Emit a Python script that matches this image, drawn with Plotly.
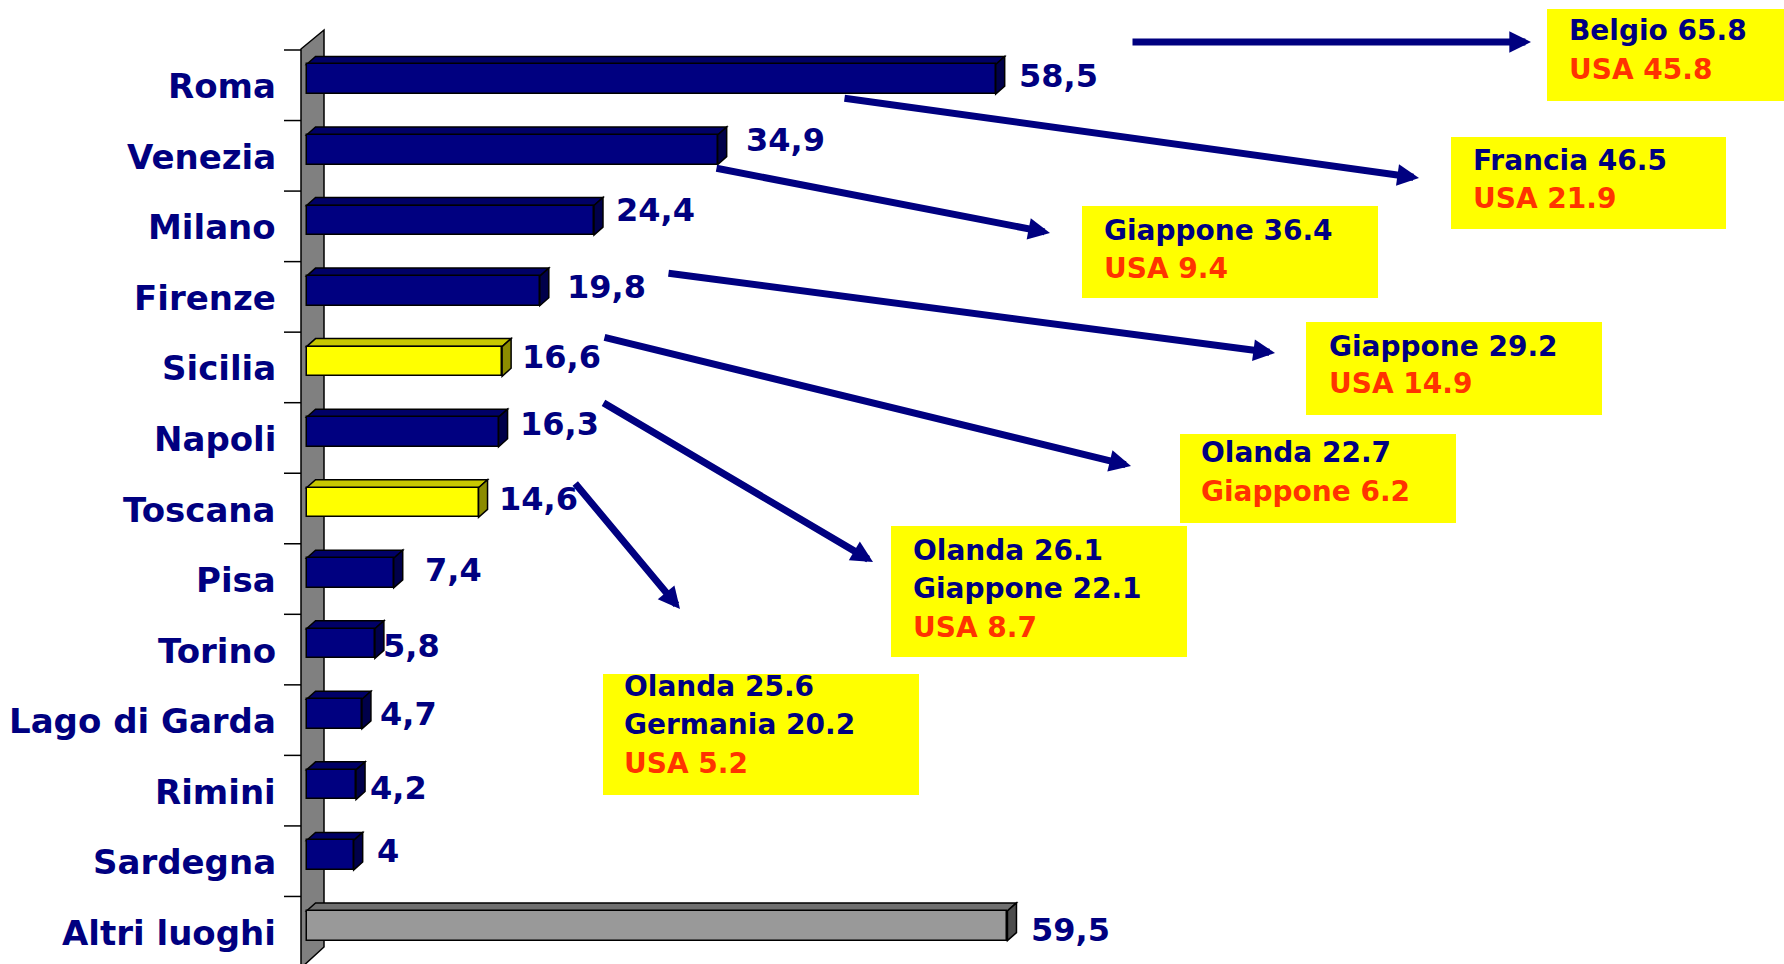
import plotly.graph_objects as go

# ---------------- data ----------------
categories = ["Roma", "Venezia", "Milano", "Firenze", "Sicilia", "Napoli", "Toscana",
              "Pisa", "Torino", "Lago di Garda", "Rimini", "Sardegna", "Altri luoghi"]
values = [58.5, 34.9, 24.4, 19.8, 16.6, 16.3, 14.6, 7.4, 5.8, 4.7, 4.2, 4.0, 59.5]
value_labels = ["58,5", "34,9", "24,4", "19,8", "16,6", "16,3", "14,6",
                "7,4", "5,8", "4,7", "4,2", "4", "59,5"]
bar_group = ["city", "city", "city", "city", "region", "city", "region",
             "city", "city", "city", "city", "city", "other"]

callout_texts = [
    ["Belgio 65.8", "USA 45.8"],
    ["Francia 46.5", "USA 21.9"],
    ["Giappone 36.4", "USA 9.4"],
    ["Giappone 29.2", "USA 14.9"],
    ["Olanda 22.7", "Giappone 6.2"],
    ["Olanda 26.1", "Giappone 22.1", "USA 8.7"],
    ["Olanda 25.6", "Germania 20.2", "USA 5.2"],
]

# ---------------- styling / layout geometry (pixels) ----------------
W, H = 1784, 964
L, R, T, B = 283, 0, 44, 3
PW, PH = W - L - R, H - T - B
UX = 11.78                      # px per unit on value axis
X0 = -2.0
XMAX = X0 + PW / UX
N = len(categories)
UY = PH / N

NAVY = "#000080"
RED = "#ff3300"
face_colors = {
    "city":   ("#000080", "#000066", "#00004a"),
    "region": ("#ffff00", "#c8c800", "#8c8c00"),
    "other":  ("#999999", "#707070", "#4d4d4d"),
}
BAR_W = 0.42
DX = 9 / UX          # depth in value units
DY = 8 / UY          # depth in category units
FONT = "DejaVu Sans"

label_gap = [21, 26, 20, 25, 18, 19, 18, 29, 6, 16, 12, 21, 22]
label_dy = [3, 10, 10, 4, 4, 8, 4, 3, -2, 0, -3, 4, -4]

# callout layout: box (x0,y0,x1,y1), text x, line ys, arrow tail, arrow tip
callout_layout = [
    dict(box=(1547, 9, 1790, 101), tx=1567, ly=[31, 70], tail=(1131, 42), tip=(1531, 42)),
    dict(box=(1451, 137, 1726, 229), tx=1471, ly=[160, 198], tail=(843, 98), tip=(1419, 178)),
    dict(box=(1082, 206, 1378, 298), tx=1102, ly=[230, 268], tail=(715, 168), tip=(1050, 233)),
    dict(box=(1306, 322, 1602, 415), tx=1327, ly=[347, 383], tail=(667, 273), tip=(1275, 353)),
    dict(box=(1180, 434, 1456, 523), tx=1199, ly=[452, 492], tail=(603, 337), tip=(1131, 466)),
    dict(box=(891, 526, 1187, 657), tx=911, ly=[550, 588, 627], tail=(602, 402), tip=(873, 562)),
    dict(box=(603, 674, 919, 795), tx=622, ly=[686, 724, 763], tail=(574, 482), tip=(680, 609)),
]


def xp(px):
    return (px - L) / PW


def yp(py):
    return 1 - (py - T) / PH


def xd(px):
    return X0 + (px - L) / UX


fig = go.Figure()

ypos = list(range(N))
fig.add_trace(go.Bar(
    x=values, y=ypos, orientation="h", width=BAR_W,
    marker=dict(color=[face_colors[g][0] for g in bar_group],
                line=dict(color="black", width=1.5)),
    hoverinfo="skip", showlegend=False,
))

shapes = []
# wall (decorative back plane)
wl, wr = xp(301), xp(324)
shapes.append(dict(
    type="path", xref="paper", yref="paper", layer="below",
    path=f"M{wl},{yp(49)} L{wr},{yp(30)} L{wr},{yp(947)} L{wl},{yp(968)} Z",
    fillcolor="#808080", line=dict(color="black", width=1.5)))
# boundary tick marks
for k in range(N):
    yb = k - 0.5 + 6 / UY
    shapes.append(dict(type="line", xref="x", yref="y", layer="below",
                       x0=xd(284), x1=xd(301), y0=yb, y1=yb,
                       line=dict(color="black", width=1.5)))
# 3D faces of bars
for i, (v, g) in enumerate(zip(values, bar_group)):
    _, top_c, side_c = face_colors[g]
    y0, y1 = i - BAR_W / 2, i + BAR_W / 2
    shapes.append(dict(
        type="path", xref="x", yref="y", layer="below",
        path=f"M0,{y0} L{v},{y0} L{v + DX},{y0 - DY} L{DX},{y0 - DY} Z",
        fillcolor=top_c, line=dict(color="black", width=1.5)))
    shapes.append(dict(
        type="path", xref="x", yref="y", layer="below",
        path=f"M{v},{y0} L{v + DX},{y0 - DY} L{v + DX},{y1 - DY} L{v},{y1} Z",
        fillcolor=side_c, line=dict(color="black", width=1.5)))

annotations = []
# category labels
for i, c in enumerate(categories):
    annotations.append(dict(
        xref="paper", yref="y", x=xp(278), y=i, yshift=-7,
        xanchor="right", yanchor="middle", showarrow=False, text=c,
        font=dict(family=FONT, size=34, color=NAVY, weight="bold")))
# value labels
for i, (v, t) in enumerate(zip(values, value_labels)):
    annotations.append(dict(
        xref="x", yref="y", x=v, y=i, xshift=label_gap[i], yshift=label_dy[i],
        xanchor="left", yanchor="middle", showarrow=False, text=t,
        font=dict(family=FONT, size=32, color=NAVY, weight="bold")))
# callouts
for lay, texts in zip(callout_layout, callout_texts):
    bx0, by0, bx1, by1 = lay["box"]
    shapes.append(dict(type="rect", xref="paper", yref="paper", layer="above",
                       x0=xp(bx0), x1=xp(bx1), y0=yp(by0), y1=yp(by1),
                       fillcolor="#ffff00", line=dict(width=0)))
    for j, (t, ly) in enumerate(zip(texts, lay["ly"])):
        col = RED if j == len(texts) - 1 else NAVY
        annotations.append(dict(
            xref="paper", yref="paper", x=xp(lay["tx"]), y=yp(ly),
            xanchor="left", yanchor="middle", showarrow=False, text=t,
            font=dict(family=FONT, size=28, color=col, weight="bold")))
    (tx0, ty0), (tx1, ty1) = lay["tail"], lay["tip"]
    annotations.append(dict(
        xref="paper", yref="paper", x=xp(tx1), y=yp(ty1),
        ax=tx0 - tx1, ay=ty0 - ty1, axref="pixel", ayref="pixel",
        text="", showarrow=True, arrowhead=2, arrowsize=0.62, arrowwidth=7,
        arrowcolor=NAVY, standoff=0))

fig.update_layout(
    width=W, height=H,
    margin=dict(l=L, r=R, t=T, b=B, pad=0),
    paper_bgcolor="white", plot_bgcolor="white",
    xaxis=dict(range=[X0, XMAX], visible=False, fixedrange=True),
    yaxis=dict(range=[N - 0.5, -0.5], visible=False, fixedrange=True),
    shapes=shapes, annotations=annotations,
    showlegend=False, bargap=0,
)

fig.write_html("out.html", config={"displayModeBar": False},
               post_script="document.body.style.margin='0';document.body.style.overflow='hidden';")
